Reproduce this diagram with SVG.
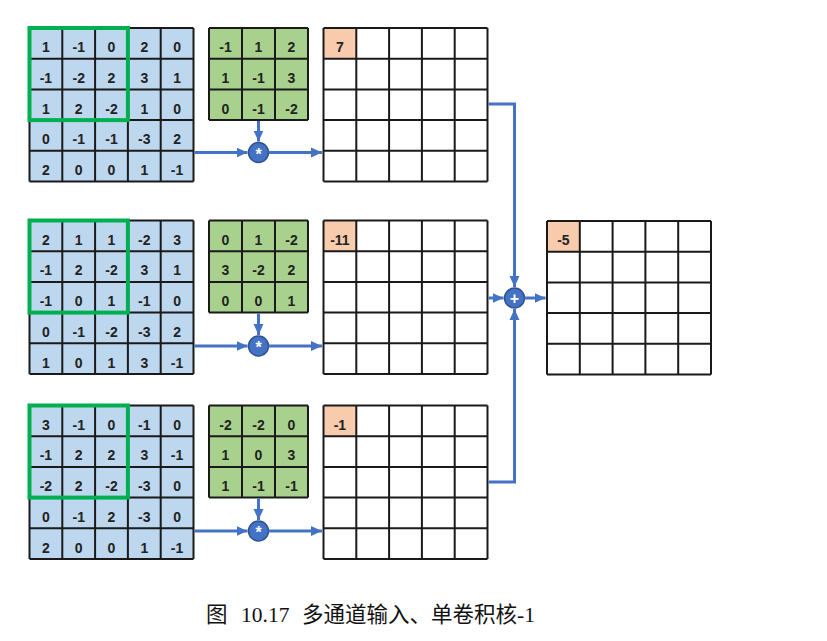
<svg xmlns="http://www.w3.org/2000/svg" width="827" height="641" viewBox="0 0 827 641">
<style>
.bg{fill:#fff}
.inp{fill:#BDD7EE}
.ker{fill:#A9D18E}
.out{fill:#fff}
.hl{fill:#F8CBAD}
.grid{fill:none;stroke:#1a1a1a;stroke-width:2}
.win{fill:none;stroke:#00B050;stroke-width:4}
.t{font-family:"Liberation Sans",Arial,sans-serif;font-weight:bold;font-size:14px;fill:#222;text-anchor:middle}
.conn{fill:none;stroke:#4472C4;stroke-width:3}
.op{fill:#4472C4;stroke:#2F528F;stroke-width:1.5}
.opt{font-family:"Liberation Sans",Arial,sans-serif;font-weight:bold;font-size:16px;fill:#fff;text-anchor:middle}
.cap{font-family:"Liberation Serif","Noto Sans CJK SC",serif;font-size:21.5px;fill:#111}
</style>
<defs>
<marker id="ah" markerUnits="userSpaceOnUse" markerWidth="12" markerHeight="12" viewBox="0 0 12 12" refX="11" refY="6" orient="auto">
<path d="M0,1 L11,6 L0,11 Z" fill="#4472C4"/>
</marker>
<path id="g5" d="M0,0H164M0,30.7H164M0,61.4H164M0,92.1H164M0,122.8H164M0,153.5H164M0,0V153.5M32.8,0V153.5M65.6,0V153.5M98.4,0V153.5M131.2,0V153.5M164,0V153.5"/>
<path id="g3" d="M0,0H99M0,30.7H99M0,61.4H99M0,92.1H99M0,0V92.1M33,0V92.1M66,0V92.1M99,0V92.1"/>
</defs>
<rect class="bg" x="0" y="0" width="827" height="641"/>

<!-- Channel 1 -->
<g id="input1" transform="translate(29.5,28)">
<rect class="inp" x="0" y="0" width="164" height="153.5"/>
<use href="#g5" class="grid"/>
<g class="t">
<text x="16.4" y="24.2">1</text><text x="49.2" y="24.2">-1</text><text x="82" y="24.2">0</text><text x="114.8" y="24.2">2</text><text x="147.6" y="24.2">0</text>
<text x="16.4" y="54.9">-1</text><text x="49.2" y="54.9">-2</text><text x="82" y="54.9">2</text><text x="114.8" y="54.9">3</text><text x="147.6" y="54.9">1</text>
<text x="16.4" y="85.6">1</text><text x="49.2" y="85.6">2</text><text x="82" y="85.6">-2</text><text x="114.8" y="85.6">1</text><text x="147.6" y="85.6">0</text>
<text x="16.4" y="116.3">0</text><text x="49.2" y="116.3">-1</text><text x="82" y="116.3">-1</text><text x="114.8" y="116.3">-3</text><text x="147.6" y="116.3">2</text>
<text x="16.4" y="147">2</text><text x="49.2" y="147">0</text><text x="82" y="147">0</text><text x="114.8" y="147">1</text><text x="147.6" y="147">-1</text>
</g>
<rect class="win" x="0" y="0" width="98.4" height="92.1"/>
</g>
<g id="kernel1" transform="translate(209,28)">
<rect class="ker" x="0" y="0" width="99" height="92.1"/>
<use href="#g3" class="grid"/>
<g class="t">
<text x="16.5" y="24.2">-1</text><text x="49.5" y="24.2">1</text><text x="82.5" y="24.2">2</text>
<text x="16.5" y="54.9">1</text><text x="49.5" y="54.9">-1</text><text x="82.5" y="54.9">3</text>
<text x="16.5" y="85.6">0</text><text x="49.5" y="85.6">-1</text><text x="82.5" y="85.6">-2</text>
</g>
</g>
<g id="output1" transform="translate(323.5,28)">
<rect class="out" x="0" y="0" width="164" height="153.5"/>
<rect class="hl" x="0" y="0" width="32.8" height="30.7"/>
<use href="#g5" class="grid"/>
<text class="t" x="16.4" y="24.2">7</text>
</g>
<g id="conv1">
<circle class="op" cx="258.5" cy="152.5" r="10"/>
<text class="opt" x="258.5" y="159.5">*</text>
</g>

<!-- Channel 2 -->
<g id="input2" transform="translate(29.5,220.5)">
<rect class="inp" x="0" y="0" width="164" height="153.5"/>
<use href="#g5" class="grid"/>
<g class="t">
<text x="16.4" y="24.2">2</text><text x="49.2" y="24.2">1</text><text x="82" y="24.2">1</text><text x="114.8" y="24.2">-2</text><text x="147.6" y="24.2">3</text>
<text x="16.4" y="54.9">-1</text><text x="49.2" y="54.9">2</text><text x="82" y="54.9">-2</text><text x="114.8" y="54.9">3</text><text x="147.6" y="54.9">1</text>
<text x="16.4" y="85.6">-1</text><text x="49.2" y="85.6">0</text><text x="82" y="85.6">1</text><text x="114.8" y="85.6">-1</text><text x="147.6" y="85.6">0</text>
<text x="16.4" y="116.3">0</text><text x="49.2" y="116.3">-1</text><text x="82" y="116.3">-2</text><text x="114.8" y="116.3">-3</text><text x="147.6" y="116.3">2</text>
<text x="16.4" y="147">1</text><text x="49.2" y="147">0</text><text x="82" y="147">1</text><text x="114.8" y="147">3</text><text x="147.6" y="147">-1</text>
</g>
<rect class="win" x="0" y="0" width="98.4" height="92.1"/>
</g>
<g id="kernel2" transform="translate(209,220.5)">
<rect class="ker" x="0" y="0" width="99" height="92.1"/>
<use href="#g3" class="grid"/>
<g class="t">
<text x="16.5" y="24.2">0</text><text x="49.5" y="24.2">1</text><text x="82.5" y="24.2">-2</text>
<text x="16.5" y="54.9">3</text><text x="49.5" y="54.9">-2</text><text x="82.5" y="54.9">2</text>
<text x="16.5" y="85.6">0</text><text x="49.5" y="85.6">0</text><text x="82.5" y="85.6">1</text>
</g>
</g>
<g id="output2" transform="translate(323.5,220.5)">
<rect class="out" x="0" y="0" width="164" height="153.5"/>
<rect class="hl" x="0" y="0" width="32.8" height="30.7"/>
<use href="#g5" class="grid"/>
<text class="t" x="16.4" y="24.2">-11</text>
</g>
<g id="conv2">
<circle class="op" cx="258.5" cy="346" r="10"/>
<text class="opt" x="258.5" y="353">*</text>
</g>

<!-- Channel 3 -->
<g id="input3" transform="translate(29.5,405.5)">
<rect class="inp" x="0" y="0" width="164" height="153.5"/>
<use href="#g5" class="grid"/>
<g class="t">
<text x="16.4" y="24.2">3</text><text x="49.2" y="24.2">-1</text><text x="82" y="24.2">0</text><text x="114.8" y="24.2">-1</text><text x="147.6" y="24.2">0</text>
<text x="16.4" y="54.9">-1</text><text x="49.2" y="54.9">2</text><text x="82" y="54.9">2</text><text x="114.8" y="54.9">3</text><text x="147.6" y="54.9">-1</text>
<text x="16.4" y="85.6">-2</text><text x="49.2" y="85.6">2</text><text x="82" y="85.6">-2</text><text x="114.8" y="85.6">-3</text><text x="147.6" y="85.6">0</text>
<text x="16.4" y="116.3">0</text><text x="49.2" y="116.3">-1</text><text x="82" y="116.3">2</text><text x="114.8" y="116.3">-3</text><text x="147.6" y="116.3">0</text>
<text x="16.4" y="147">2</text><text x="49.2" y="147">0</text><text x="82" y="147">0</text><text x="114.8" y="147">1</text><text x="147.6" y="147">-1</text>
</g>
<rect class="win" x="0" y="0" width="98.4" height="92.1"/>
</g>
<g id="kernel3" transform="translate(209,405.5)">
<rect class="ker" x="0" y="0" width="99" height="92.1"/>
<use href="#g3" class="grid"/>
<g class="t">
<text x="16.5" y="24.2">-2</text><text x="49.5" y="24.2">-2</text><text x="82.5" y="24.2">0</text>
<text x="16.5" y="54.9">1</text><text x="49.5" y="54.9">0</text><text x="82.5" y="54.9">3</text>
<text x="16.5" y="85.6">1</text><text x="49.5" y="85.6">-1</text><text x="82.5" y="85.6">-1</text>
</g>
</g>
<g id="output3" transform="translate(323.5,405.5)">
<rect class="out" x="0" y="0" width="164" height="153.5"/>
<rect class="hl" x="0" y="0" width="32.8" height="30.7"/>
<use href="#g5" class="grid"/>
<text class="t" x="16.4" y="24.2">-1</text>
</g>
<g id="conv3">
<circle class="op" cx="258.5" cy="531" r="10"/>
<text class="opt" x="258.5" y="538">*</text>
</g>

<!-- Sum -->
<g id="sum">
<circle class="op" cx="514.5" cy="298" r="10"/>
<text class="opt" x="514.5" y="303.8">+</text>
</g>
<g id="result" transform="translate(547,221)">
<rect class="out" x="0" y="0" width="164" height="153.5"/>
<rect class="hl" x="0" y="0" width="32.8" height="30.7"/>
<use href="#g5" class="grid"/>
<text class="t" x="16.4" y="24.2">-5</text>
</g>

<g id="connectors">
<path class="conn" d="M194.5,152.5H247.5" marker-end="url(#ah)"/>
<path class="conn" d="M258.5,121V141.5" marker-end="url(#ah)"/>
<path class="conn" d="M268.5,152.5H322" marker-end="url(#ah)"/>
<path class="conn" d="M194.5,346H247.5" marker-end="url(#ah)"/>
<path class="conn" d="M258.5,313.5V335" marker-end="url(#ah)"/>
<path class="conn" d="M268.5,346H322" marker-end="url(#ah)"/>
<path class="conn" d="M194.5,531H247.5" marker-end="url(#ah)"/>
<path class="conn" d="M258.5,498.5V520" marker-end="url(#ah)"/>
<path class="conn" d="M268.5,531H322" marker-end="url(#ah)"/>
<path class="conn" d="M488.5,104H514.5V287" marker-end="url(#ah)"/>
<path class="conn" d="M488.5,482H514.5V309" marker-end="url(#ah)"/>
<path class="conn" d="M488.5,298H503.5" marker-end="url(#ah)"/>
<path class="conn" d="M524.5,298H545.5" marker-end="url(#ah)"/>
</g>

<g id="caption" class="cap">
<text x="206" y="622">图</text>
<text x="241" y="622">10.17</text>
<text x="302" y="622">多通道输入、单卷积核-1</text>
</g>
</svg>
